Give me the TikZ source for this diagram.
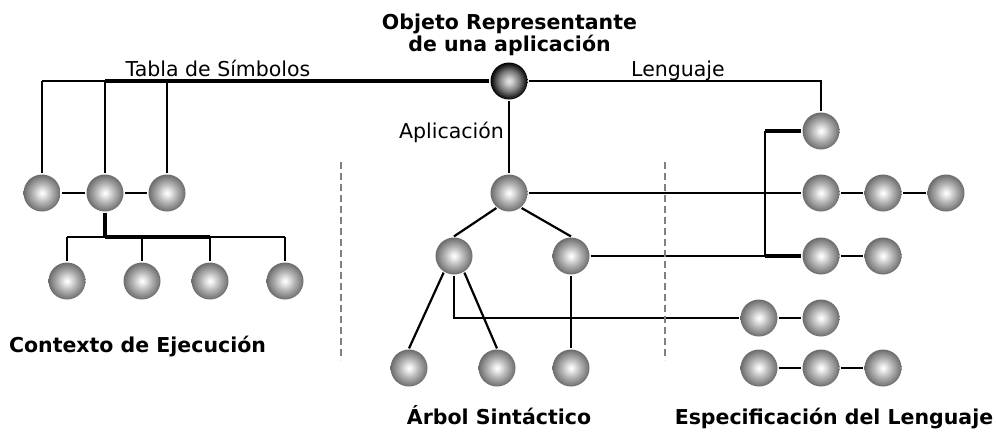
\documentclass[tikz,border=0pt]{standalone}
\usepackage{fontspec}
\setmainfont{DejaVu Sans}
\usetikzlibrary{positioning}

\pgfdeclareradialshading{bola}{\pgfpoint{0bp}{0bp}}{color(0bp)=(white); color(3bp)=(white!95!black); color(13bp)=(white!70!black); color(20bp)=(white!54!black); color(25bp)=(white!42!black); color(50bp)=(white!42!black)}
\pgfdeclareradialshading{bolaraiz}{\pgfpoint{0bp}{0bp}}{color(0bp)=(white!90!black); color(4bp)=(white!82!black); color(14bp)=(white!48!black); color(21bp)=(white!18!black); color(25bp)=(black); color(50bp)=(black)}

\begin{document}
\begin{tikzpicture}[x=1pt, y=-1pt, line width=2.2pt,
  nodo/.style={circle, minimum size=37pt, inner sep=0pt, shade, shading=bola},
  raiz/.style={nodo, shading=bolaraiz},
  lbl/.style={font=\fontsize{20.5}{24}\selectfont, inner sep=0pt},
  titulo/.style={font=\bfseries\fontsize{20.5}{23}\selectfont, inner sep=0pt},
  grueso/.style={line width=3.2pt},
  fino/.style={line width=1.7pt},
  sep/.style={gray, line width=1.6pt, dash pattern=on 7pt off 4pt}]
  \useasboundingbox (0,0) rectangle (996,432);

  % nodos
  \node[raiz] (obj) at (509,81) {};
  \node[nodo] (ts1) at (42,193) {};
  \node[nodo] (ts2) at (105,193) {};
  \node[nodo] (ts3) at (167,193) {};
  \foreach \n/\x in {1/67, 2/142, 3/210, 4/285}
    \node[nodo] (ce\n) at (\x,281) {};
  \node[nodo] (app) at (509,193) {};
  \node[nodo] (ar1) at (454,256) {};
  \node[nodo] (ar2) at (571,256) {};
  \node[nodo] (ar3) at (409,368) {};
  \node[nodo] (ar4) at (497,368) {};
  \node[nodo] (ar5) at (571,368) {};
  \node[nodo] (lg1) at (821,131) {};
  \node[nodo] (lg2) at (821,193) {};
  \node[nodo] (lg3) at (883,193) {};
  \node[nodo] (lg4) at (946,193) {};
  \node[nodo] (lg5) at (821,256) {};
  \node[nodo] (lg6) at (883,256) {};
  \node[nodo] (lg7) at (759,318) {};
  \node[nodo] (lg8) at (821,318) {};
  \node[nodo] (lg9) at (759,368) {};
  \node[nodo] (lg10) at (821,368) {};
  \node[nodo] (lg11) at (883,368) {};
  \coordinate (bus) at (105,237);
  \coordinate (ejeA) at (765,131);
  \coordinate (ejeB) at (765,256);

  % tabla de simbolos
  \draw[fino] (ts1 |- obj) -- (ts2 |- obj);
  \draw[grueso] (ts2 |- obj) -- (obj);
  \foreach \n in {ts1, ts2, ts3}
    \draw (\n |- obj) -- (\n);
  \draw (ts1) -- (ts2) -- (ts3);
  \draw[grueso] (ts2) -- (bus);
  \draw[fino] (ce1 |- bus) -- (ce4 |- bus);
  \draw[grueso] (bus) -- (ce3 |- bus);
  \foreach \n in {ce1, ce2, ce3, ce4}
    \draw (\n |- bus) -- (\n);

  % arbol sintactico
  \draw[fino] (obj) -- (app);
  \draw (app.230) -- (ar1.north);
  \draw (app.310) -- (ar2.north);
  \draw (ar1.238) -- (ar3.north);
  \draw (ar1.302) -- (ar4.north);
  \draw (ar2) -- (ar5);
  \draw[fino] (ar1) -- (ar1 |- lg7) -- (lg7);

  % lenguaje
  \draw[fino] (obj) -- (lg1 |- obj) -- (lg1);
  \draw (app) -- (lg2);
  \draw[fino] (ar2) -- (ejeB);
  \draw (ejeA) -- (ejeB);
  \draw[grueso] (ejeA) -- (lg1);
  \draw[grueso] (ejeB) -- (lg5);
  \draw (lg2) -- (lg3) -- (lg4);
  \draw (lg5) -- (lg6);
  \draw (lg7) -- (lg8);
  \draw (lg9) -- (lg10) -- (lg11);

  \draw[sep] (341,162) -- (341,360);
  \draw[sep] (665,162) -- (665,360);

  % textos
  \node[titulo, anchor=base] (tit1) at (509.5,29) {Objeto Representante};
  \node[titulo, anchor=base] (tit2) at (509.5,51) {de una aplicación};
  \node[lbl, anchor=base] (ltab) at (218,76) {Tabla de Símbolos};
  \node[lbl, anchor=base] (lleng) at (678,76) {Lenguaje};
  \node[lbl, anchor=base east] (lapp) at (505,138) {Aplicación};
  \node[titulo, anchor=base] (tctx) at (137.5,352) {Contexto de Ejecución};
  \node[titulo, anchor=base] (tarb) at (499,424) {Árbol Sintáctico};
  \node[titulo, anchor=base] (tesp) at (834,424) {Especificación del Lenguaje};
\end{tikzpicture}
\end{document}
